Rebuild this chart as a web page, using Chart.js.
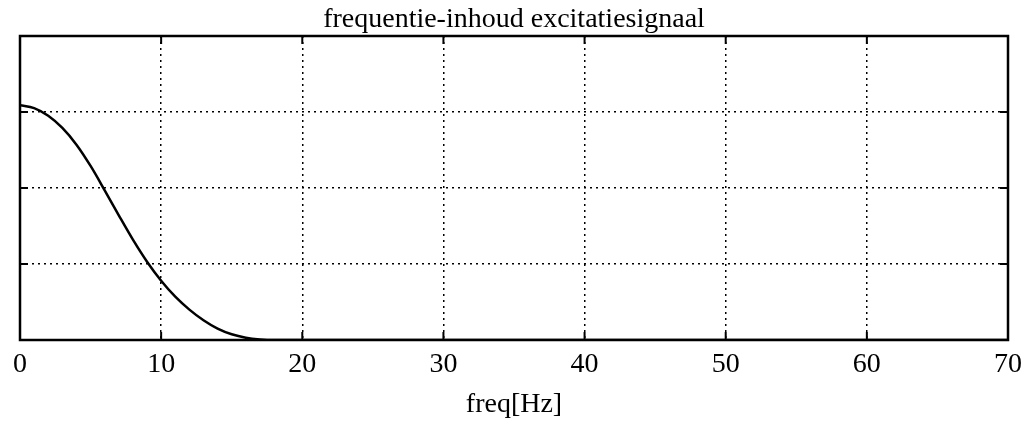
<!DOCTYPE html>
<html>
<head>
<meta charset="utf-8">
<script src="https://cdn.jsdelivr.net/npm/chart.js@4.4.0/dist/chart.umd.min.js"></script>
<style>
  html, body { margin: 0; padding: 0; background: #fff; }
  #wrap { width: 1026px; height: 423px; }
</style>
</head>
<body>
<div id="wrap"><canvas id="chart-1"></canvas></div>
<script>
// frequency axis (Hz) and spectrum magnitude
var freqs = [0, 1, 2, 3, 4, 5, 6, 7, 8, 9, 10, 11, 12, 13, 14, 15, 16, 17, 18, 20, 30, 40, 50, 60, 70];
var magnitude = [3.09, 3.05, 2.95, 2.79, 2.57, 2.29, 1.97, 1.64, 1.32, 1.03, 0.78, 0.57, 0.40, 0.26, 0.15, 0.075, 0.03, 0.008, 0, 0, 0, 0, 0, 0, 0];
var xTicks = [0, 10, 20, 30, 40, 50, 60, 70];
var yTicks = [0, 1, 2, 3, 4];

var serif = "'Liberation Serif', 'DejaVu Serif', serif";

// frame + inward tick marks, matlab style
const framePlugin = {
  id: "frame",
  afterDraw: function (chart) {
    const ctx = chart.ctx;
    const a = chart.chartArea;
    const xs = chart.scales.x;
    const ys = chart.scales.y;
    ctx.save();
    ctx.strokeStyle = "#000";
    ctx.lineWidth = 2.5;
    ctx.strokeRect(a.left, a.top, a.right - a.left, a.bottom - a.top);
    ctx.lineWidth = 2;
    ctx.beginPath();
    xTicks.forEach(function (v) {
      var px = xs.getPixelForValue(v);
      ctx.moveTo(px, a.bottom); ctx.lineTo(px, a.bottom - 8);
      ctx.moveTo(px, a.top); ctx.lineTo(px, a.top + 8);
    });
    yTicks.forEach(function (v) {
      var py = ys.getPixelForValue(v);
      ctx.moveTo(a.left, py); ctx.lineTo(a.left + 8, py);
      ctx.moveTo(a.right, py); ctx.lineTo(a.right - 8, py);
    });
    ctx.stroke();
    ctx.restore();
  }
};

const ctx1 = document.getElementById("chart-1").getContext("2d");
const myChart = new Chart(ctx1, {
  type: "line",
  data: {
    datasets: [
      {
        data: freqs.map(function (f, i) { return { x: f, y: magnitude[i] }; }),
        borderColor: "#000",
        borderWidth: 2.5,
        pointRadius: 0,
        fill: false,
        cubicInterpolationMode: "monotone"
      }
    ]
  },
  options: {
    responsive: true,
    maintainAspectRatio: false,
    animation: false,
    layout: { padding: { left: 20, right: 18, top: 0, bottom: 0 } },
    plugins: {
      legend: { display: false },
      tooltip: { enabled: false },
      title: {
        display: true,
        text: "frequentie-inhoud excitatiesignaal",
        color: "#000",
        font: { family: serif, size: 28, weight: "normal", lineHeight: 1.0 },
        padding: { top: 6, bottom: 2 }
      }
    },
    scales: {
      x: {
        type: "linear",
        min: 0,
        max: 70,
        afterBuildTicks: function (s) { s.ticks = xTicks.map(function (v) { return { value: v }; }); },
        afterFit: function (s) { s.height = 83; s.paddingLeft = 0; s.paddingRight = 0; },
        grid: { color: "#000", lineWidth: 1.5, drawTicks: false },
        border: { display: false, dash: [2, 4] },
        ticks: { color: "#000", font: { family: serif, size: 28 }, padding: 8, maxRotation: 0 },
        title: {
          display: true,
          text: "freq[Hz]",
          color: "#000",
          font: { family: serif, size: 28 },
          padding: { top: 4, bottom: 2 }
        }
      },
      y: {
        min: 0,
        max: 4,
        afterBuildTicks: function (s) { s.ticks = yTicks.map(function (v) { return { value: v }; }); },
        afterFit: function (s) { s.width = 0; },
        grid: { color: "#000", lineWidth: 1.5, drawTicks: false },
        border: { display: false, dash: [2, 4] },
        ticks: { display: false }
      }
    }
  },
  plugins: [framePlugin]
});
</script>
</body>
</html>
